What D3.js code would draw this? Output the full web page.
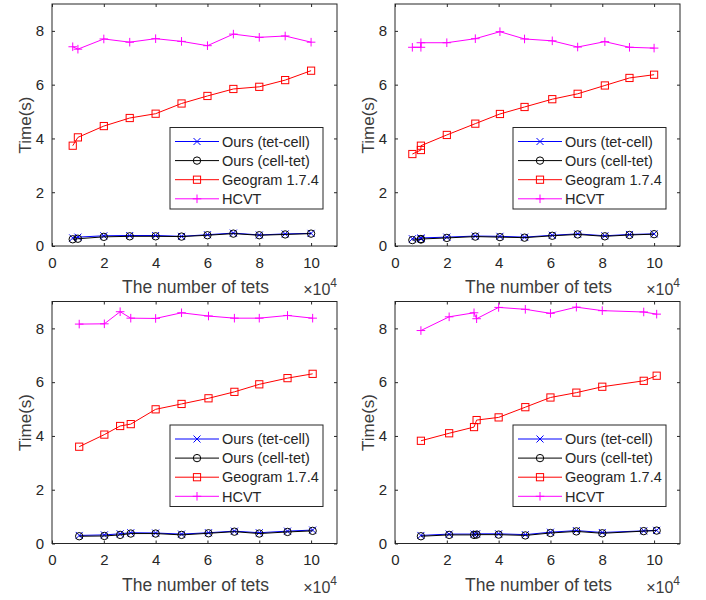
<!DOCTYPE html>
<html>
<head>
<meta charset="utf-8">
<script src="https://cdn.jsdelivr.net/npm/d3@7"></script>
<style>
  html, body { margin: 0; padding: 0; background: #fff; }
  svg { display: block; }
  text { font-family: "Liberation Sans", Arial, Helvetica, sans-serif; fill: #262626; font-weight: normal; }
  text.title { fill: #3c3c3c; }
</style>
</head>
<body>
<svg id="fig" width="706" height="600"></svg>
<script>
// Timing results (seconds) versus number of tetrahedra (x 10^4), four test cases.

const seriesNames = ["Ours (tet-cell)", "Ours (cell-tet)", "Geogram 1.7.4", "HCVT"];
const xTickValues = [0, 2, 4, 6, 8, 10];
const yTickValues = [0, 2, 4, 6, 8];

// Case 1 (top left)
const tetsA     = [0.8, 1.0, 2, 3, 4, 5, 6, 7, 8, 9, 10];
const tetCellA  = [0.30, 0.33, 0.38, 0.39, 0.39, 0.36, 0.42, 0.48, 0.41, 0.45, 0.47];
const cellTetA  = [0.25, 0.27, 0.34, 0.36, 0.36, 0.35, 0.40, 0.46, 0.40, 0.43, 0.46];
const geogramA  = [3.73, 4.04, 4.46, 4.76, 4.92, 5.30, 5.58, 5.84, 5.92, 6.17, 6.52];
const hcvtA     = [7.41, 7.32, 7.70, 7.58, 7.71, 7.61, 7.45, 7.88, 7.76, 7.81, 7.58];

// Case 2 (top right)
const tetsB     = [0.67, 1.0, 1.0, 2, 3.1, 4.05, 5, 6.07, 7.05, 8.1, 9.05, 10];
const tetCellB  = [0.27, 0.27, 0.30, 0.33, 0.37, 0.36, 0.33, 0.40, 0.45, 0.38, 0.43, 0.45];
const cellTetB  = [0.22, 0.24, 0.26, 0.30, 0.35, 0.33, 0.31, 0.38, 0.43, 0.36, 0.41, 0.44];
const geogramB  = [3.42, 3.57, 3.73, 4.13, 4.55, 4.91, 5.17, 5.46, 5.66, 5.97, 6.25, 6.37];
const hcvtB     = [7.39, 7.39, 7.56, 7.56, 7.71, 7.97, 7.70, 7.63, 7.40, 7.60, 7.39, 7.36];

// Case 3 (bottom left)
const tetsC     = [1.05, 2.02, 2.63, 3.04, 4, 5, 6.04, 7.04, 8, 9.09, 10.06];
const tetCellC  = [0.30, 0.32, 0.36, 0.40, 0.39, 0.35, 0.40, 0.46, 0.40, 0.46, 0.50];
const cellTetC  = [0.27, 0.28, 0.32, 0.37, 0.37, 0.32, 0.38, 0.44, 0.37, 0.43, 0.47];
const geogramC  = [3.60, 4.05, 4.37, 4.44, 4.99, 5.19, 5.40, 5.64, 5.92, 6.15, 6.31];
const hcvtC     = [8.16, 8.17, 8.62, 8.38, 8.37, 8.58, 8.46, 8.38, 8.38, 8.48, 8.38];

// Case 4 (bottom right)
const tetsD     = [1.0, 2.09, 3.05, 3.15, 4, 5.03, 6, 7, 8, 9.6, 10.1];
const tetCellD  = [0.30, 0.35, 0.35, 0.36, 0.36, 0.33, 0.42, 0.48, 0.41, 0.47, 0.49];
const cellTetD  = [0.27, 0.32, 0.32, 0.33, 0.33, 0.30, 0.39, 0.45, 0.38, 0.46, 0.48];
const geogramD  = [3.82, 4.10, 4.33, 4.59, 4.69, 5.07, 5.43, 5.61, 5.83, 6.05, 6.24];
const hcvtD     = [7.92, 8.43, 8.58, 8.36, 8.78, 8.71, 8.56, 8.79, 8.66, 8.61, 8.53];

const panels = [
  { tets: tetsA, values: [tetCellA, cellTetA, geogramA, hcvtA], box: { left: 52,  top: 4,     right: 337, bottom: 246 } },
  { tets: tetsB, values: [tetCellB, cellTetB, geogramB, hcvtB], box: { left: 395, top: 4,     right: 680, bottom: 246 } },
  { tets: tetsC, values: [tetCellC, cellTetC, geogramC, hcvtC], box: { left: 52,  top: 301.5, right: 337, bottom: 543.5 } },
  { tets: tetsD, values: [tetCellD, cellTetD, geogramD, hcvtD], box: { left: 395, top: 301.5, right: 680, bottom: 543.5 } }
];

const seriesStyle = [
  { color: "#0000ff", marker: "cross" },
  { color: "#000000", marker: "circle" },
  { color: "#ff0000", marker: "square" },
  { color: "#ff00ff", marker: "plus" }
];

const axisColor = "#262626";
const svg = d3.select("#fig");

function drawMarker(g, type, color, cx, cy) {
  if (type === "cross") {
    const s = 3.5;
    g.append("path").attr("d", `M${cx - s},${cy - s}L${cx + s},${cy + s}M${cx - s},${cy + s}L${cx + s},${cy - s}`)
      .attr("stroke", color).attr("stroke-width", 1).attr("fill", "none");
  } else if (type === "circle") {
    g.append("circle").attr("cx", cx).attr("cy", cy).attr("r", 3.7)
      .attr("stroke", color).attr("stroke-width", 1).attr("fill", "none");
  } else if (type === "square") {
    const s = 3.6;
    g.append("rect").attr("x", cx - s).attr("y", cy - s).attr("width", 2 * s).attr("height", 2 * s)
      .attr("stroke", color).attr("stroke-width", 1).attr("fill", "none");
  } else if (type === "plus") {
    const s = 4.3;
    g.append("path").attr("d", `M${cx - s},${cy}L${cx + s},${cy}M${cx},${cy - s}L${cx},${cy + s}`)
      .attr("stroke", color).attr("stroke-width", 1).attr("fill", "none");
  }
}

panels.forEach(p => {
  const b = p.box;
  const x = d3.scaleLinear().domain([0, 11]).range([b.left, b.right]);
  const y = d3.scaleLinear().domain([0, 9]).range([b.bottom, b.top]);
  const g = svg.append("g");

  // Inward ticks on all four sides
  const tickLen = 3;
  const bottomAxis = g.append("g").attr("transform", `translate(0,${b.bottom})`)
    .call(d3.axisBottom(x).tickValues(xTickValues).tickSizeInner(-tickLen).tickSizeOuter(0).tickPadding(11));
  const topAxis = g.append("g").attr("transform", `translate(0,${b.top})`)
    .call(d3.axisTop(x).tickValues(xTickValues).tickSizeInner(-tickLen).tickSizeOuter(0).tickFormat(""));
  const leftAxis = g.append("g").attr("transform", `translate(${b.left},0)`)
    .call(d3.axisLeft(y).tickValues(yTickValues).tickSizeInner(-tickLen).tickSizeOuter(0).tickPadding(8));
  const rightAxis = g.append("g").attr("transform", `translate(${b.right},0)`)
    .call(d3.axisRight(y).tickValues(yTickValues).tickSizeInner(-tickLen).tickSizeOuter(0).tickFormat(""));

  [bottomAxis, topAxis, leftAxis, rightAxis].forEach(a => {
    a.select(".domain").remove();
    a.selectAll(".tick line").attr("stroke", axisColor);
    a.selectAll(".tick text").attr("font-size", 15).attr("fill", axisColor)
      .style("font-family", '"Liberation Sans", Arial, sans-serif');
  });

  // Series lines and markers
  const plot = g.append("g");
  p.values.forEach((vals, si) => {
    const st = seriesStyle[si];
    const pts = vals.map((v, i) => [x(p.tets[i]), y(v)]);
    plot.append("path").attr("d", d3.line()(pts))
      .attr("fill", "none").attr("stroke", st.color).attr("stroke-width", 1);
    pts.forEach(pt => drawMarker(plot, st.marker, st.color, pt[0], pt[1]));
  });

  // Axes box
  g.append("rect").attr("x", b.left).attr("y", b.top)
    .attr("width", b.right - b.left).attr("height", b.bottom - b.top)
    .attr("fill", "none").attr("stroke", axisColor).attr("stroke-width", 1);

  // Axis titles
  const midX = (b.left + b.right) / 2;
  g.append("text").attr("class", "title").attr("x", midX + 1).attr("y", b.bottom + 47)
    .attr("text-anchor", "middle").attr("font-size", 17.5).text("The number of tets");
  const expo = g.append("text").attr("class", "title").attr("x", b.right).attr("y", b.bottom + 49)
    .attr("text-anchor", "end").attr("font-size", 16);
  expo.append("tspan").text("\u00d710");
  expo.append("tspan").attr("dy", -8).attr("font-size", 12).text("4");

  g.append("text").attr("class", "title")
    .attr("transform", `translate(${b.left - 21},${(b.top + b.bottom) / 2}) rotate(-90)`)
    .attr("text-anchor", "middle").attr("font-size", 17).text("Time(s)");

  // Legend
  const lg = g.append("g").attr("transform", `translate(${b.right - 167},${b.bottom - 118.5})`);
  lg.append("rect").attr("x", 0).attr("y", 0).attr("width", 153).attr("height", 81.5)
    .attr("fill", "#fff").attr("stroke", axisColor).attr("stroke-width", 1);
  seriesNames.forEach((name, i) => {
    const cy = 14 + i * 19.1;
    const st = seriesStyle[i];
    lg.append("line").attr("x1", 5).attr("x2", 49).attr("y1", cy).attr("y2", cy)
      .attr("stroke", st.color).attr("stroke-width", 1);
    drawMarker(lg, st.marker, st.color, 27, cy);
    lg.append("text").attr("x", 52).attr("y", cy).attr("dy", "0.36em")
      .attr("font-size", 14.5).text(name);
  });
});
</script>
</body>
</html>
